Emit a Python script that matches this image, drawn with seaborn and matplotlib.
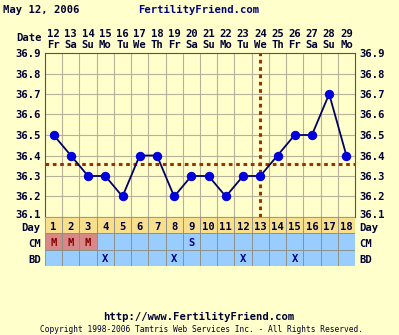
import matplotlib
matplotlib.use("Agg")
import matplotlib.pyplot as plt
import matplotlib.transforms as mtransforms
import seaborn as sns
import pandas as pd
import numpy as np

# ---- data ----
cycle_days = list(range(1, 19))
dates = [12, 13, 14, 15, 16, 17, 18, 19, 20, 21, 22, 23, 24, 25, 26, 27, 28, 29]
weekdays = ["Fr", "Sa", "Su", "Mo", "Tu", "We", "Th", "Fr", "Sa", "Su", "Mo",
            "Tu", "We", "Th", "Fr", "Sa", "Su", "Mo"]
temps = [36.5, 36.4, 36.3, 36.3, 36.2, 36.4, 36.4, 36.2, 36.3, 36.3, 36.2,
         36.3, 36.3, 36.4, 36.5, 36.5, 36.7, 36.4]
cm = ["M", "M", "M", "", "", "", "", "", "S", "", "", "", "", "", "", "", "", ""]
bd = ["", "", "", "X", "", "", "", "X", "", "", "", "X", "", "", "X", "", "", ""]
coverline = 36.36
ovulation_day = 13
y_ticks = [36.1, 36.2, 36.3, 36.4, 36.5, 36.6, 36.7, 36.8, 36.9]
title_date = "May 12, 2006"
site = "FertilityFriend.com"

df = pd.DataFrame({"day": cycle_days, "temp": temps})

BG = "#FFFFCC"
GRID = "#B8B098"
FONT = "DejaVu Sans Mono"
FS = 7.6

sns.set_style("white")
plt.rcParams["font.family"] = [FONT, "DejaVu Sans"]
plt.rcParams["font.weight"] = "bold"

W, H = 399, 335
fig = plt.figure(figsize=(W / 100, H / 100), dpi=100, facecolor=BG)

def fx(x):
    return x / W

def fy(y):
    return 1 - y / H

L, R, T, B = 45, 355, 53, 217
ax = fig.add_axes([fx(L), fy(B), (R - L) / W, (B - T) / H])
ax.set_facecolor(BG)

sns.lineplot(data=df, x="day", y="temp", ax=ax, color="#000066", linewidth=1.3,
             marker="o", markersize=6, markerfacecolor="#0000DD",
             markeredgecolor="#0000DD", zorder=5)

ax.set_xlim(0.5, 18.5)
ax.set_ylim(36.1, 36.9)
ax.set_xlabel("")
ax.set_ylabel("")

ax.grid(False)
for x in np.arange(1.5, 18.5, 1):
    ax.axvline(x, color=GRID, lw=0.8, zorder=1)
for y in y_ticks[1:-1]:
    ax.axhline(y, color=GRID, lw=0.8, zorder=1)

# coverline & ovulation line
ax.axhline(coverline, color="#993300", lw=2.2, linestyle=(0, (1.2, 1.2)), zorder=3)
ax.axvline(ovulation_day, color="#993300", lw=2.2, linestyle=(0, (1.2, 1.2)), zorder=3)

ax.set_yticks(y_ticks)
ax.set_yticklabels([f"{v:.1f}" for v in y_ticks])
ax.tick_params(axis="y", length=0, labelleft=True, labelright=True,
               labelsize=FS, pad=3, labelcolor="#000033")
ax.set_xticks(cycle_days)
ax.set_xticklabels([f"{d}\n{w}" for d, w in zip(dates, weekdays)],
                   linespacing=1.1)
ax.tick_params(axis="x", length=0, labeltop=True, labelbottom=False,
               labelsize=FS, pad=2, labelcolor="#000033")
for sp in ax.spines.values():
    sp.set_color("#555544")
    sp.set_linewidth(0.8)

# nudge the lowest temperature labels up so they clear the "Day" labels
up = mtransforms.ScaledTranslation(0, 2.5 / 100, fig.dpi_scale_trans)
for t in [ax.yaxis.get_major_ticks()[0].label1, ax.yaxis.get_major_ticks()[0].label2]:
    t.set_transform(t.get_transform() + up)

# bottom table
TB = 266
tab = fig.add_axes([fx(L), fy(TB), (R - L) / W, (TB - B) / H])
tab.set_xlim(0.5, 18.5)
tab.set_ylim(3, 0)
day_colors = ["#F7DF8C"] * 18
cm_colors = ["#D98888" if c == "M" else "#99CCFF" for c in cm]
bd_colors = ["#99CCFF"] * 18
for row, cols in enumerate([day_colors, cm_colors, bd_colors]):
    tab.barh([row + 0.5] * 18, [1] * 18, left=[d - 0.5 for d in cycle_days],
             height=1, color=cols, edgecolor="#8C8C80", linewidth=0.6)
for d in cycle_days:
    tab.text(d, 0.6, str(d), ha="center", va="center", fontsize=FS,
             color="#000033")
for d, c in zip(cycle_days, cm):
    if c:
        tab.text(d, 1.6, c, ha="center", va="center", fontsize=FS,
                 color="#800000" if c == "M" else "#000080")
for d, b in zip(cycle_days, bd):
    if b:
        tab.text(d, 2.6, b, ha="center", va="center", fontsize=FS,
                 color="#000080")
tab.set_yticks([0.6, 1.6, 2.6])
tab.set_yticklabels(["Day", "CM", "BD"])
tab.set_xticks([])
tab.tick_params(axis="y", length=0, labelleft=True, labelright=True,
                labelsize=FS, pad=3, labelcolor="#000033")
for sp in tab.spines.values():
    sp.set_visible(False)

# header / footer texts
fig.text(fx(3), fy(10), title_date, fontsize=FS, color="#000033",
         ha="left", va="center")
fig.text(fx(199), fy(10), site, fontsize=FS, color="#000080",
         ha="center", va="center")
fig.text(fx(42), fy(38), "Date", fontsize=FS, color="#000033",
         ha="right", va="center")
fig.text(fx(199), fy(317), "http://www.FertilityFriend.com", fontsize=FS,
         color="#000033", ha="center", va="center")
fig.text(fx(201), fy(329),
         "Copyright 1998-2006 Tamtris Web Services Inc. - All Rights Reserved.",
         fontsize=5.7, color="#000033", ha="center", va="center",
         fontweight="normal")

fig.savefig("out.png", dpi=100, facecolor=BG)
